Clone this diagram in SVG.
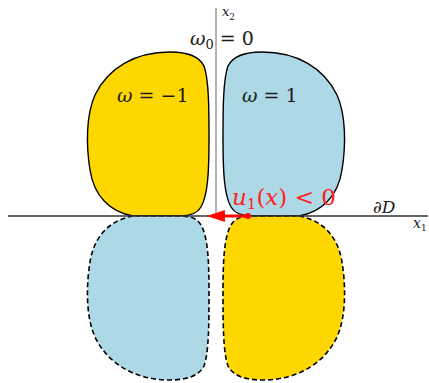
<svg xmlns="http://www.w3.org/2000/svg" width="429" height="383" viewBox="0 0 429 383">
<style>
.yellow{fill:#FFD700}
.blue{fill:#ADD8E6}
.solid{stroke:#000;stroke-width:1.4}
.dash{stroke:#000;stroke-width:1.6;stroke-dasharray:5,3}
.lbl{fill:#1a1a1a}
.it{font-style:italic}
.red{fill:#ff2020}
</style>
<defs>
<path id="lobe" d="M 133,216 C 110,212 94,196 90,170 C 86,145 86,115 95,95 C 108,68 135,52 170,52 C 190,52 200,58 204,66 C 209,80 209,110 209,140 C 209,170 208,195 201,207 C 197,214 190,216 180,216 Z"/>
<marker id="ah" markerWidth="6" markerHeight="4" refX="0.3" refY="2" orient="auto" markerUnits="strokeWidth">
<path d="M0,0 L6,2 L0,4 Z" fill="#ff0000"/>
</marker>
</defs>
<g id="lobe-top-left"><use href="#lobe" class="yellow solid"/></g>
<g id="lobe-top-right"><use href="#lobe" class="blue solid" transform="translate(432,0) scale(-1,1)"/></g>
<g id="lobe-bottom-left"><use href="#lobe" class="blue dash" transform="translate(0,432) scale(1,-1)"/></g>
<g id="lobe-bottom-right"><use href="#lobe" class="yellow dash" transform="rotate(180 216 216)"/></g>
<g id="connectors">
<line x1="216" y1="8" x2="216" y2="216" stroke="#808080" stroke-width="1.2"/>
<line x1="8" y1="216" x2="428" y2="216" stroke="#333" stroke-width="1.6"/>
<line x1="248" y1="216" x2="224" y2="216" stroke="#ff0000" stroke-width="3" marker-end="url(#ah)"/>
<circle cx="248" cy="216" r="3" fill="#ff0000"/>
</g>
<g id="labels" font-family="'DejaVu Serif', serif">
<text class="lbl it" x="222" y="16" font-size="13">x<tspan font-size="9" dy="4" font-style="normal">2</tspan></text>
<text class="lbl" x="190" y="45" font-size="19" xml:space="preserve"><tspan class="it">ω</tspan><tspan font-size="13" dy="4">0</tspan><tspan dy="-4"> = 0</tspan></text>
<text class="lbl" x="117" y="102" font-size="19" xml:space="preserve"><tspan class="it">ω</tspan> = −1</text>
<text class="lbl" x="242" y="102" font-size="19" xml:space="preserve"><tspan class="it">ω</tspan> = 1</text>
<text class="lbl red" x="232" y="205" font-size="23" xml:space="preserve"><tspan class="it">u</tspan><tspan font-size="15" dy="4">1</tspan><tspan dy="-4">(</tspan><tspan class="it">x</tspan>) &lt; 0</text>
<text class="lbl it" x="373" y="213" font-size="17">∂D</text>
<text class="lbl it" x="413" y="228" font-size="14">x<tspan font-size="9" dy="3" font-style="normal">1</tspan></text>
</g>
</svg>
